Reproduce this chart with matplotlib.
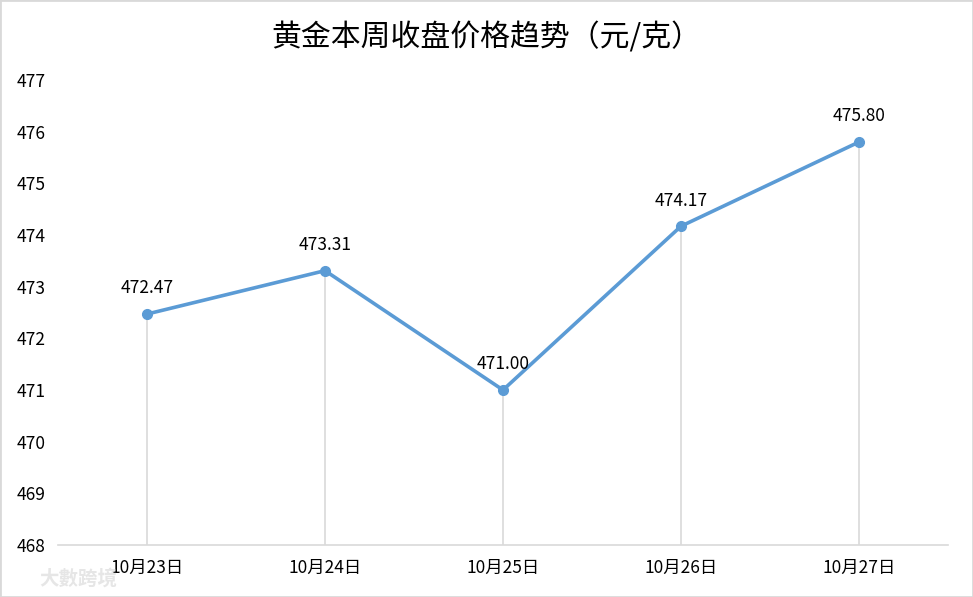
import matplotlib.pyplot as plt
from matplotlib.patches import Rectangle

plt.rcParams['font.family'] = ['Noto Sans CJK SC', 'DejaVu Sans']

dates = ['10月23日', '10月24日', '10月25日', '10月26日', '10月27日']
prices = [472.47, 473.31, 471.00, 474.17, 475.80]
yticks = list(range(468, 478))

fig = plt.figure(figsize=(9.73, 5.97), dpi=100)
ax = fig.add_axes([0.0596, 0.0871, 0.9147, 0.7789])

x = list(range(len(dates)))
ax.vlines(x, 468, prices, color='#d9d9d9', linewidth=1.2, zorder=1)
ax.plot(x, prices, color='#5b9bd5', linewidth=2.6, marker='o', markersize=7, zorder=3)
for xi, p in zip(x, prices):
    ax.annotate(f'{p:.2f}', (xi, p), xytext=(0, 12), textcoords='offset points',
                ha='center', va='bottom', fontsize=12.5, color='#000000')

ax.set_xlim(-0.5, len(dates) - 0.5)
ax.set_ylim(468, 477)
ax.set_yticks(yticks)
ax.set_xticks(x)
ax.set_xticklabels(dates)
ax.tick_params(axis='both', length=0, labelsize=12.5, colors='#000000')
ax.tick_params(axis='x', pad=10)
for lbl in ax.get_yticklabels():
    lbl.set_horizontalalignment('left')
ax.yaxis.set_tick_params(pad=30)
for s in ['top', 'right', 'left']:
    ax.spines[s].set_visible(False)
ax.spines['bottom'].set_color('#d9d9d9')
ax.spines['bottom'].set_linewidth(1.2)

fig.text(0.5, 0.936, '黄金本周收盘价格趋势（元/克）', ha='center', va='center', fontsize=21.5, color='#000000')
fig.text(0.08, 0.03, '大數跨境', ha='center', va='center', fontsize=14, color='#e6e6e6', weight='bold')

fig.patches.append(Rectangle((0, 0), 1, 1, transform=fig.transFigure, fill=False,
                             edgecolor='#d9d9d9', linewidth=2))

fig.savefig('out.png', dpi=100)
